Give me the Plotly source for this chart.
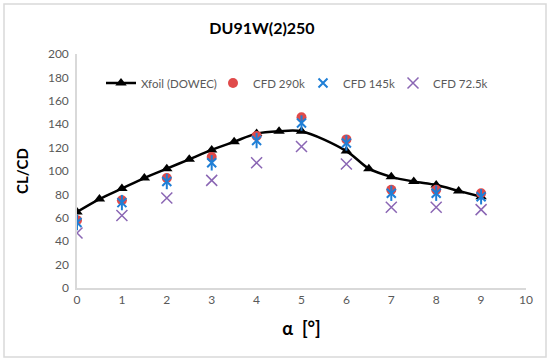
import plotly.graph_objects as go

alpha_xfoil = [0, 0.5, 1, 1.5, 2, 2.5, 3, 3.5, 4, 4.5, 5, 6, 6.5, 7, 7.5, 8, 8.5, 9]
clcd_xfoil = [65, 76, 85, 94, 102, 110, 118, 125, 132, 134, 134, 117, 102, 95, 91, 88, 83, 78]

alpha_cfd = [0, 1, 2, 3, 4, 5, 6, 7, 8, 9]
clcd_290k = [58, 75, 94, 112, 130, 146, 127, 84, 84, 81]
clcd_145k = [56, 73, 91, 107, 126, 141, 124, 81, 81, 78]
clcd_72k = [47, 62, 77, 92, 107, 121, 106, 69, 69, 67]

FONT = "Lato"
RED = "#E04A4A"
BLUE = "#1F7FD6"
PURPLE = "#8A66B4"

fig = go.Figure()
fig.add_trace(go.Scatter(
    x=alpha_xfoil, y=clcd_xfoil, name="Xfoil (DOWEC)", mode="lines+markers",
    line=dict(color="black", width=2.5, shape="spline", smoothing=0.9),
    marker=dict(symbol="triangle-up", size=10, color="black"),
    legendwidth=67,
))
fig.add_trace(go.Scatter(
    x=alpha_cfd, y=clcd_290k, name="CFD 290k", mode="markers",
    marker=dict(symbol="circle", size=10, color=RED),
    legendwidth=45,
))
fig.add_trace(go.Scatter(
    x=alpha_cfd, y=clcd_145k, name="CFD 145k", mode="markers",
    marker=dict(symbol="x-thin-open", size=9, color=BLUE, line=dict(color=BLUE, width=2)),
    legendgroup="145", legendwidth=45,
))
fig.add_trace(go.Scatter(
    x=alpha_cfd, y=clcd_145k, name="CFD 145k", mode="markers", showlegend=False,
    marker=dict(symbol="line-ns-open", size=11, color=BLUE, line=dict(color=BLUE, width=2)),
    legendgroup="145", hoverinfo="skip",
))
fig.add_trace(go.Scatter(
    x=alpha_cfd, y=clcd_72k, name="CFD 72.5k", mode="markers",
    marker=dict(symbol="x-thin-open", size=11, color=PURPLE, line=dict(color=PURPLE, width=1.5)),
    legendwidth=70,
))

axis_common = dict(
    showgrid=False, zeroline=False, showline=True, linecolor="#D9D9D9", linewidth=1.5,
    ticks="", automargin=False, tickfont=dict(family=FONT, size=12, color="#595959"),
)

fig.update_layout(
    width=550, height=361,
    margin=dict(l=77, r=24, t=54, b=73, autoexpand=False),
    paper_bgcolor="white", plot_bgcolor="white",
    title=dict(text="<b>DU91W(2)250</b>", x=(262 / 550), xanchor="center", y=1 - 28 / 361, yanchor="middle",
               font=dict(family=FONT, size=16, color="black")),
    xaxis=dict(range=[0, 10], dtick=1, tick0=0,
               title=dict(text="<b>α  [°]</b>", font=dict(family=FONT, size=18, color="black"), standoff=16),
               **axis_common),
    yaxis=dict(range=[0, 200], dtick=20, tick0=0, ticklabelstandoff=4,
               title=dict(text="<b>CL/CD</b>", font=dict(family=FONT, size=15, color="black"), standoff=16),
               **axis_common),
    legend=dict(orientation="h", x=(101 - 77) / 449, y=(288 - 83) / 234, xanchor="left", yanchor="middle",
                font=dict(family=FONT, size=11.5, color="#595959"), bgcolor="rgba(0,0,0,0)",
                tracegroupgap=0),
    showlegend=True,
    shapes=[dict(type="rect", xref="paper", yref="paper",
                 x0=(4 - 77) / 449, x1=(546 - 77) / 449,
                 y0=(288 - 357) / 234, y1=(288 - 4) / 234,
                 line=dict(color="#D9D9D9", width=1.5), layer="below")],
)

fig.write_html("out.html", config={"displayModeBar": False},
               post_script="document.body.style.margin='0px';")
